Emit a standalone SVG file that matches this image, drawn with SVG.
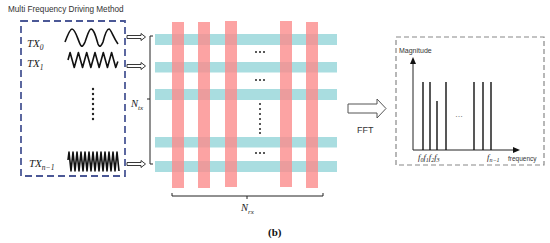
<svg xmlns="http://www.w3.org/2000/svg" width="550" height="243" viewBox="0 0 550 243">
<style>
.sans{font-family:"Liberation Sans",Arial,sans-serif;fill:#333}
.math{font-family:"Liberation Serif","Times New Roman",serif;font-style:italic;fill:#222}
.wave{fill:none;stroke:#111;stroke-width:1.6;stroke-linejoin:round}
.cy{fill:#a9dde0}
.rd{fill:#fb8c8c;opacity:0.8}
.dot{fill:#222}
.ln{stroke:#222;stroke-width:1;fill:none}
.harrow{fill:#fff;stroke:#222;stroke-width:0.9}
.bar{stroke:#111;stroke-width:1.4}
</style>
<rect width="550" height="243" fill="#fff"/>
<text class="sans" x="8" y="12" font-size="8.2">Multi Frequency Driving Method</text>

<g id="tx-box">
<rect x="21" y="21" width="104" height="155" fill="none" stroke="#4b5896" stroke-width="1.8" stroke-dasharray="7,4"/>
<text class="math" x="27" y="47" font-size="11">TX<tspan font-size="7.5" dy="2.5">0</tspan></text>
<text class="math" x="27" y="67" font-size="11">TX<tspan font-size="7.5" dy="2.5">1</tspan></text>
<text class="math" x="29" y="167" font-size="11">TX<tspan font-size="7.5" dy="2.5">n−1</tspan></text>
<path class="wave" d="M65,42 C68,34 70,29 72,29 C75,29 77,37 80,44 C82,49 84,44 85,42 C88,34 89,29 91,29 C94,29 96,37 98,44 C100,49 102,44 103,42 C105,34 107,29 109,29 C111,29 113,37 118,44"/>
<path class="wave" d="M68,60 l2.1,-7.5 l4.15,15 l4.15,-15 l4.15,15 l4.15,-15 l4.15,15 l4.15,-15 l4.15,15 l4.15,-15 l4.15,15 l4.15,-15 l4.15,15 l2.1,-6"/>
<path class="wave" d="M68,160 l1,-8 l2,19 l2,-19 l2,19 l2,-19 l2,19 l2,-19 l2,19 l2,-19 l2,19 l2,-19 l2,19 l2,-19 l2,19 l2,-19 l2,19 l2,-19 l2,19 l2,-19 l2,19 l2,-19 l2,19 l2,-19 l2,19 l2,-19 l2,19"/>
<g class="dot">
<circle cx="93" cy="89" r="1.2"/><circle cx="93" cy="94" r="1.2"/><circle cx="93" cy="99" r="1.2"/><circle cx="93" cy="104" r="1.2"/><circle cx="93" cy="109" r="1.2"/><circle cx="93" cy="114" r="1.2"/><circle cx="93" cy="119" r="1.2"/>
</g>
</g>

<g id="grid">
<rect class="cy" x="155" y="34" width="182" height="11"/>
<rect class="cy" x="155" y="62" width="182" height="10.5"/>
<rect class="cy" x="155" y="89" width="182" height="11"/>
<rect class="cy" x="155" y="137" width="182" height="10.5"/>
<rect class="cy" x="155" y="161" width="182" height="11"/>
<rect class="rd" x="172" y="22" width="12" height="166"/>
<rect class="rd" x="198" y="22" width="12" height="166"/>
<rect class="rd" x="225" y="21" width="12" height="166"/>
<rect class="rd" x="280" y="21" width="12" height="166"/>
<rect class="rd" x="306" y="22" width="12" height="166"/>
<g class="dot">
<circle cx="256" cy="52" r="1"/><circle cx="260" cy="52" r="1"/><circle cx="264" cy="52" r="1"/>
<circle cx="256" cy="80" r="1"/><circle cx="260" cy="80" r="1"/><circle cx="264" cy="80" r="1"/>
<circle cx="256" cy="153" r="1"/><circle cx="260" cy="153" r="1"/><circle cx="264" cy="153" r="1"/>
<circle cx="260" cy="104" r="1"/><circle cx="260" cy="109" r="1"/><circle cx="260" cy="114" r="1"/><circle cx="260" cy="119" r="1"/><circle cx="260" cy="124" r="1"/><circle cx="260" cy="129" r="1"/><circle cx="260" cy="133" r="1"/>
</g>
</g>

<g id="connectors">
<polygon class="harrow" points="127,35.5 141,35.5 141,33.5 145.5,37 141,40.5 141,38.5 127,38.5"/>
<polygon class="harrow" points="127,64.5 141,64.5 141,62.5 145.5,66 141,69.5 141,67.5 127,67.5"/>
<polygon class="harrow" points="127,162.5 141,162.5 141,160.5 145.5,164 141,167.5 141,165.5 127,165.5"/>
<path class="ln" d="M153,36 H150 V164 H153 M150,99 H147"/>
<path class="ln" d="M172,193 V196 H323 V193 M247,196 V199"/>
<polygon fill="#fff" stroke="#555" stroke-width="1" points="348,104 377,104 377,99 386,108.5 377,118 377,113 348,113"/>
</g>
<text class="math" x="131" y="107" font-size="10.5">N<tspan font-size="7" dy="2.5">tx</tspan></text>
<text class="math" x="241" y="211" font-size="10.5">N<tspan font-size="7" dy="2.5">rx</tspan></text>
<text class="sans" x="357" y="133" font-size="9">FFT</text>
<text x="268" y="236" font-family="Liberation Serif,Times New Roman,serif" font-weight="bold" font-size="11" fill="#111">(b)</text>

<g id="spectrum">
<rect x="396" y="37" width="148" height="128" fill="none" stroke="#888" stroke-width="1.2" stroke-dasharray="5,3"/>
<text class="sans" x="399" y="53" font-size="7">Magnitude</text>
<line class="ln" x1="413" y1="150" x2="413" y2="62" stroke-width="1.3"/>
<polygon points="413,57 410,64 416,64" fill="#111"/>
<line class="ln" x1="413" y1="150" x2="515" y2="150" stroke-width="1.3"/>
<polygon points="520,150 513,147 513,153" fill="#111"/>
<line class="bar" x1="423" y1="82" x2="423" y2="150"/>
<line class="bar" x1="430" y1="82" x2="430" y2="150"/>
<line class="bar" x1="437" y1="101" x2="437" y2="150"/>
<line class="bar" x1="446" y1="82" x2="446" y2="150"/>
<line class="bar" x1="474" y1="82" x2="474" y2="150"/>
<line class="bar" x1="483" y1="82" x2="483" y2="150"/>
<line class="bar" x1="491" y1="82" x2="491" y2="150"/>
<text class="sans" x="455" y="117" font-size="8">…</text>
<text class="math" x="418" y="160" font-size="8.5">f<tspan font-size="6" dy="1.5">0</tspan><tspan dy="-1.5">f</tspan><tspan font-size="6" dy="1.5">1</tspan><tspan dy="-1.5">f</tspan><tspan font-size="6" dy="1.5">2</tspan><tspan dy="-1.5">f</tspan><tspan font-size="6" dy="1.5">3</tspan></text>
<text class="math" x="487" y="160" font-size="8.5">f<tspan font-size="6" dy="1.5">n−1</tspan></text>
<text class="sans" x="508" y="161" font-size="6.5">frequency</text>
</g>
</svg>
